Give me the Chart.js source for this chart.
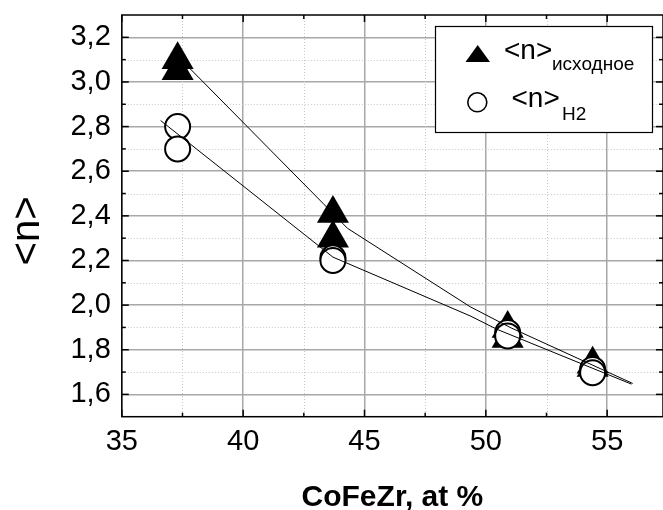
<!DOCTYPE html>
<html>
<head>
<meta charset="utf-8">
<script src="https://cdn.jsdelivr.net/npm/chart.js@4.4.0/dist/chart.umd.min.js"></script>
<style>
  html, body { margin: 0; padding: 0; background: #fff; overflow: hidden; }
  #wrap { width: 663px; height: 510px; position: relative; }
</style>
</head>
<body>
<div id="wrap"><canvas id="nChart"></canvas></div>
<script>
// values
const xInitial = [37.3, 37.3, 43.7, 43.7, 50.9, 50.9, 54.4, 54.4];
const nInitial = [3.10, 3.05, 2.41, 2.30, 1.895, 1.85, 1.735, 1.72];
const xH2 = [37.3, 37.3, 43.7, 43.7, 50.9, 50.9, 54.4, 54.4];
const nH2 = [2.80, 2.70, 2.212, 2.20, 1.877, 1.862, 1.712, 1.697];

// fitted curves
const fitInitialX = [37.3, 43.3, 44.3, 49.35, 51.0, 56.05];
const fitInitialY = [3.116, 2.455, 2.344, 1.993, 1.900, 1.649];
const fitH2X = [36.6, 43.7, 49.35, 50.45, 56.0];
const fitH2Y = [2.827, 2.215, 1.952, 1.892, 1.646];

const xTicks = [35, 40, 45, 50, 55];
const xMinor = [37.5, 42.5, 47.5, 52.5];
const yTicks = [1.6, 1.8, 2.0, 2.2, 2.4, 2.6, 2.8, 3.0, 3.2];
const yMinor = [1.7, 1.9, 2.1, 2.3, 2.5, 2.7, 2.9, 3.1];

const FONT = "'Liberation Sans', Arial, sans-serif";

const toPts = (xs, ys) => xs.map((x, i) => ({ x: x, y: ys[i] }));

// dotted minor grid + inward ticks on all four sides
const minorGrid = {
    id: 'minorGrid',
    beforeDatasetsDraw(chart) {
        const { ctx, chartArea: a, scales: { x, y } } = chart;
        ctx.save();
        ctx.strokeStyle = '#c8c8c8';
        ctx.lineWidth = 1;
        ctx.setLineDash([1, 2]);
        xMinor.forEach(v => {
            const px = Math.round(x.getPixelForValue(v)) + 0.5;
            ctx.beginPath(); ctx.moveTo(px, a.top); ctx.lineTo(px, a.bottom); ctx.stroke();
        });
        yMinor.forEach(v => {
            const py = Math.round(y.getPixelForValue(v)) + 0.5;
            ctx.beginPath(); ctx.moveTo(a.left, py); ctx.lineTo(a.right, py); ctx.stroke();
        });
        ctx.setLineDash([]);
        ctx.strokeStyle = '#000';
        ctx.lineWidth = 1.5;
        const tick = (x1, y1, x2, y2) => { ctx.beginPath(); ctx.moveTo(x1, y1); ctx.lineTo(x2, y2); ctx.stroke(); };
        xTicks.concat(xMinor).forEach(v => {
            const len = xTicks.includes(v) ? 7 : 4;
            const px = x.getPixelForValue(v);
            tick(px, a.bottom, px, a.bottom - len);
            tick(px, a.top, px, a.top + len);
        });
        yTicks.concat(yMinor).forEach(v => {
            const len = yTicks.includes(v) ? 7 : 4;
            const py = y.getPixelForValue(v);
            tick(a.left, py, a.left + len, py);
            tick(a.right, py, a.right - len, py);
        });
        ctx.lineWidth = 1.5;
        ctx.strokeRect(a.left, a.top, a.right - a.left, a.bottom - a.top);
        ctx.restore();
    }
};

// legend with subscripts
const subLegend = {
    id: 'subLegend',
    afterDraw(chart) {
        const ctx = chart.ctx;
        ctx.save();
        ctx.fillStyle = '#fff';
        ctx.fillRect(435, 26, 218, 107);
        ctx.strokeStyle = '#000';
        ctx.lineWidth = 1.2;
        ctx.strokeRect(435.5, 26.5, 217, 106);

        ctx.fillStyle = '#000';
        ctx.beginPath();
        ctx.moveTo(477.7, 45);
        ctx.lineTo(490, 62);
        ctx.lineTo(465.5, 62);
        ctx.closePath();
        ctx.fill();

        ctx.lineWidth = 1.6;
        ctx.beginPath();
        ctx.arc(477.3, 102.3, 9.5, 0, Math.PI * 2);
        ctx.stroke();

        ctx.textBaseline = 'alphabetic';
        ctx.textAlign = 'left';
        ctx.font = '28px ' + FONT;
        ctx.fillText('<n>', 504, 59);
        ctx.fillText('<n>', 511.5, 107);
        ctx.font = '19px ' + FONT;
        ctx.fillText('исходное', 552, 70);
        ctx.fillText('H2', 562, 120);
        ctx.restore();
    }
};

new Chart(document.getElementById('nChart'), {
    type: 'scatter',
    data: {
        datasets: [
            {
                label: '<n> исходное',
                data: toPts(xInitial, nInitial),
                pointStyle: 'triangle',
                pointRadius: 18.5,
                pointHoverRadius: 18.5,
                backgroundColor: '#000',
                borderColor: '#000',
                borderWidth: 0,
                order: 3
            },
            {
                label: '<n> H2',
                data: toPts(xH2, nH2),
                pointStyle: 'circle',
                pointRadius: 12.5,
                pointHoverRadius: 12.5,
                backgroundColor: '#fff',
                borderColor: '#000',
                borderWidth: 2,
                order: 2
            },
            {
                label: 'fit исходное',
                type: 'line',
                data: toPts(fitInitialX, fitInitialY),
                borderColor: '#000',
                borderWidth: 1,
                pointRadius: 0,
                fill: false,
                tension: 0,
                order: 1
            },
            {
                label: 'fit H2',
                type: 'line',
                data: toPts(fitH2X, fitH2Y),
                borderColor: '#000',
                borderWidth: 1,
                pointRadius: 0,
                fill: false,
                tension: 0,
                order: 1
            }
        ]
    },
    options: {
        responsive: true,
        maintainAspectRatio: false,
        animation: false,
        layout: { autoPadding: false, padding: { top: 15, right: 0, left: 0, bottom: 0 } },
        plugins: {
            legend: { display: false },
            tooltip: { enabled: false }
        },
        scales: {
            x: {
                type: 'linear',
                min: 35,
                max: 57.3,
                afterBuildTicks: s => { s.ticks = xTicks.map(v => ({ value: v })); },
                afterFit: s => { s.height = 93.3; s.paddingLeft = 0; s.paddingRight = 0; },
                grid: { color: '#a8a8a8', lineWidth: 1.5, drawTicks: false },
                border: { display: false },
                ticks: {
                    color: '#000',
                    font: { family: FONT, size: 29 },
                    padding: 8,
                    maxRotation: 0
                },
                title: {
                    display: true,
                    text: 'CoFeZr, at %',
                    color: '#000',
                    font: { family: FONT, size: 30, weight: 'bold', lineHeight: 1 },
                    padding: { top: 0, bottom: -3 }
                }
            },
            y: {
                type: 'linear',
                min: 1.5,
                max: 3.3,
                afterBuildTicks: s => { s.ticks = yTicks.map(v => ({ value: v })); },
                afterFit: s => { s.width = 121.8; s.paddingTop = 0; s.paddingBottom = 0; },
                grid: { color: '#a8a8a8', lineWidth: 1.5, drawTicks: false },
                border: { display: false },
                ticks: {
                    color: '#000',
                    font: { family: FONT, size: 29 },
                    padding: 11,
                    callback: v => v.toFixed(1).replace('.', ',')
                },
                title: {
                    display: true,
                    text: '<n>\u00a0\u00a0\u2009',
                    color: '#000',
                    font: { family: FONT, size: 40, lineHeight: 1 },
                    padding: { top: 8, bottom: 0 }
                }
            }
        }
    },
    plugins: [minorGrid, subLegend]
});
</script>
</body>
</html>
